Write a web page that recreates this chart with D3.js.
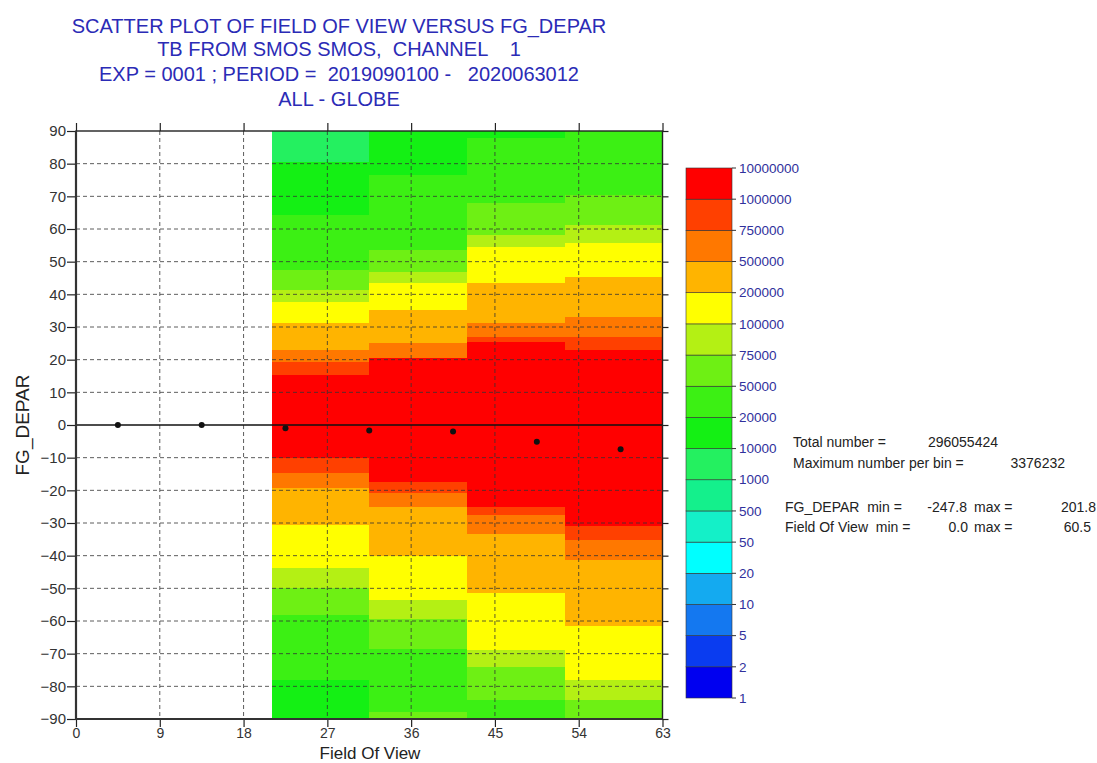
<!DOCTYPE html>
<html>
<head>
<meta charset="utf-8">
<script src="https://cdn.jsdelivr.net/npm/d3@7"></script>
<style>
  body { margin: 0; background: #fff; }
  svg text { font-family: "Liberation Sans", Arial, Helvetica, sans-serif; }
  .pre { white-space: pre; }
</style>
</head>
<body>
<script>
// chart values
const titleLines = [
  'SCATTER PLOT OF FIELD OF VIEW VERSUS FG_DEPAR',
  'TB FROM SMOS SMOS,  CHANNEL    1',
  'EXP = 0001 ; PERIOD =  2019090100 -   2020063012',
  'ALL - GLOBE'
];
const xTicks = [0, 9, 18, 27, 36, 45, 54, 63];
const yTicks = [90, 80, 70, 60, 50, 40, 30, 20, 10, 0, -10, -20, -30, -40, -50, -60, -70, -80, -90];

// field of view bins (x) and, per bin, FG_DEPAR band edges with counts
const fovEdges = [21, 31.5, 42, 52.5, 63];
const col1Edges = [90, 80.6, 64.3, 47.4, 41.3, 37.8, 31.1, 23.0, 19.4, 15.3, -10.2, -14.8, -19.4, -30.6, -43.9, -50.0, -58.2, -78.1, -90];
const col1Counts = [5000, 15000, 30000, 60000, 85000, 150000, 300000, 600000, 850000, 2000000, 850000, 600000, 300000, 150000, 85000, 60000, 30000, 15000];
const col2Edges = [90, 76.5, 53.6, 46.9, 43.6, 35.2, 25.0, 20.4, -17.3, -20.9, -25.1, -40.0, -53.6, -59.5, -68.6, -87.8, -90];
const col2Counts = [15000, 30000, 60000, 85000, 150000, 300000, 600000, 2500000, 850000, 600000, 300000, 150000, 85000, 60000, 30000, 60000];
const col3Edges = [90, 87.8, 67.9, 58.2, 54.4, 43.4, 31.3, 27.0, 25.5, -25.1, -27.6, -33.5, -51.3, -68.9, -74.2, -84.2, -90];
const col3Counts = [15000, 30000, 60000, 85000, 150000, 300000, 600000, 850000, 3000000, 850000, 600000, 300000, 150000, 85000, 60000, 30000];
const col4Edges = [90, 70.4, 61.2, 55.6, 45.4, 33.2, 27.0, 23.0, -30.9, -35.2, -41.3, -61.5, -78.1, -84.2, -90];
const col4Counts = [30000, 60000, 85000, 150000, 300000, 600000, 850000, 3300000, 850000, 600000, 300000, 150000, 85000, 60000];

// mean FG_DEPAR per field of view bin
const meanFov = [4.5, 13.5, 22.5, 31.5, 40.5, 49.5, 58.5];
const meanDepar = [0, 0, -1.0, -1.7, -2.0, -5.1, -7.4];

// colour bar
const legendLevels = [1, 2, 5, 10, 20, 50, 500, 1000, 10000, 20000, 50000, 75000, 100000, 200000, 500000, 750000, 1000000, 10000000];
const levelColors = ['#0000f0', '#0a3cf0', '#1478f0', '#14aaf0', '#00ffff', '#14f0c8', '#14f08c', '#24f060',
  '#14f014', '#3cf014', '#6ef014', '#b4f014', '#ffff00', '#ffb400', '#ff7800', '#ff4000', '#ff0000'];

const statLabels = ['Total number =', 'Maximum number per bin =', 'FG_DEPAR  min =', 'Field Of View  min ='];
const statValues = ['296055424', '3376232', '-247.8', '0.0'];
const statMax = ['', '', '201.8', '60.5'];

const width = 1097, height = 763;

const svg = d3.select('body').append('svg')
  .attr('width', width)
  .attr('height', height)
  .attr('viewBox', [0, 0, width, height]);

const x = d3.scaleLinear([0, 63], [76, 662.5]);
const y = d3.scaleLinear([-90, 90], [719, 131]);
const color = d3.scaleThreshold(legendLevels.slice(1, -1), levelColors);

// title
svg.append('g')
  .attr('fill', '#2b2bb6')
  .attr('font-size', 20)
  .attr('text-anchor', 'middle')
  .selectAll('text')
  .data(titleLines)
  .join('text')
  .attr('class', 'pre')
  .attr('x', 339)
  .attr('y', (d, i) => [33, 56, 81, 106][i])
  .text(d => d);

// heat map cells
const columns = [
  { edges: col1Edges, counts: col1Counts },
  { edges: col2Edges, counts: col2Counts },
  { edges: col3Edges, counts: col3Counts },
  { edges: col4Edges, counts: col4Counts }
];
const cells = columns.flatMap((col, i) => col.counts.map((c, j) => ({
  x0: fovEdges[i], x1: fovEdges[i + 1], y0: col.edges[j], y1: col.edges[j + 1], count: c
})));

svg.append('g')
  .attr('shape-rendering', 'crispEdges')
  .selectAll('rect')
  .data(cells)
  .join('rect')
  .attr('x', d => x(d.x0))
  .attr('y', d => y(d.y0))
  .attr('width', d => x(d.x1) - x(d.x0) + 0.5)
  .attr('height', d => y(d.y1) - y(d.y0) + 0.5)
  .attr('fill', d => color(d.count));

// dashed grid
const grid = svg.append('g')
  .attr('stroke', '#333')
  .attr('stroke-width', 0.8)
  .attr('stroke-dasharray', '4,3');
grid.selectAll('.vx')
  .data(xTicks.slice(1, -1))
  .join('line')
  .attr('x1', d => x(d)).attr('x2', d => x(d))
  .attr('y1', y(90)).attr('y2', y(-90));
grid.selectAll('.hy')
  .data(yTicks.filter(d => Math.abs(d) !== 90 && d !== 0))
  .join('line')
  .attr('y1', d => y(d)).attr('y2', d => y(d))
  .attr('x1', x(0)).attr('x2', x(63));

// zero line
svg.append('line')
  .attr('x1', x(0)).attr('x2', x(63))
  .attr('y1', y(0)).attr('y2', y(0))
  .attr('stroke', '#111')
  .attr('stroke-width', 1.5);

// axes
const styleAxis = g => {
  g.select('.domain').remove();
  g.selectAll('.tick line').attr('stroke', '#222').attr('stroke-width', 1.2);
  g.selectAll('.tick text').attr('fill', '#333').attr('font-size', 15);
};

svg.append('g')
  .attr('transform', `translate(${x(0)},0)`)
  .call(d3.axisLeft(y).tickValues(yTicks).tickSize(9).tickPadding(1).tickFormat(d3.format('d')))
  .call(styleAxis);

svg.append('g')
  .attr('transform', `translate(0,${y(-90)})`)
  .call(d3.axisBottom(x).tickValues(xTicks).tickSize(8).tickPadding(1))
  .call(styleAxis)
  .call(g => g.selectAll('.tick text').attr('font-size', 14));

svg.append('g')
  .attr('transform', `translate(0,${y(90)})`)
  .call(d3.axisTop(x).tickValues(xTicks).tickSize(8).tickFormat(''))
  .call(styleAxis);

svg.append('g')
  .attr('transform', `translate(${x(63)},0)`)
  .call(d3.axisRight(y).tickValues(yTicks).tickSize(6).tickFormat(''))
  .call(styleAxis);

// frame
svg.append('rect')
  .attr('x', x(0)).attr('y', y(90))
  .attr('width', x(63) - x(0)).attr('height', y(-90) - y(90))
  .attr('fill', 'none')
  .attr('stroke', '#222')
  .attr('stroke-width', 1.4);
svg.append('path')
  .attr('d', `M${x(0)},${y(90)}V${y(-90)}H${x(63)}`)
  .attr('fill', 'none')
  .attr('stroke', '#333')
  .attr('stroke-width', 2.2);

// mean points
svg.append('g')
  .selectAll('circle')
  .data(meanFov)
  .join('circle')
  .attr('cx', d => x(d))
  .attr('cy', (d, i) => y(meanDepar[i]))
  .attr('r', 3)
  .attr('fill', '#111');

// axis titles
svg.append('text')
  .attr('x', 370).attr('y', 758.5)
  .attr('text-anchor', 'middle')
  .attr('font-size', 17)
  .attr('fill', '#222')
  .text('Field Of View');

svg.append('text')
  .attr('transform', `translate(29,${y(0)}) rotate(-90)`)
  .attr('text-anchor', 'middle')
  .attr('font-size', 19)
  .attr('fill', '#222')
  .text('FG_DEPAR');

// colour bar
const cb = d3.scaleLinear([0, legendLevels.length - 1], [698, 168]);
const legend = svg.append('g');
legend.selectAll('rect')
  .data(levelColors)
  .join('rect')
  .attr('x', 686)
  .attr('y', (d, i) => cb(i + 1))
  .attr('width', 46)
  .attr('height', (d, i) => cb(i) - cb(i + 1))
  .attr('fill', d => d)
  .attr('stroke', '#333')
  .attr('stroke-width', 0.6);
legend.selectAll('line')
  .data(legendLevels)
  .join('line')
  .attr('x1', 732).attr('x2', 736)
  .attr('y1', (d, i) => cb(i)).attr('y2', (d, i) => cb(i))
  .attr('stroke', '#333');
legend.selectAll('text')
  .data(legendLevels)
  .join('text')
  .attr('x', 739)
  .attr('y', (d, i) => cb(i))
  .attr('dy', '0.35em')
  .attr('font-size', 13.5)
  .attr('fill', '#30309c')
  .text(d => d);

// statistics
const statY = [447, 468, 512, 532];
const stats = svg.append('g').attr('font-size', 14).attr('fill', '#222');
stats.selectAll('.lab')
  .data(statLabels)
  .join('text')
  .attr('class', 'pre')
  .attr('x', (d, i) => i < 2 ? 793 : 785)
  .attr('y', (d, i) => statY[i])
  .text(d => d);
stats.selectAll('.val')
  .data(statValues)
  .join('text')
  .attr('x', (d, i) => [998, 1065, 967, 968][i])
  .attr('y', (d, i) => statY[i])
  .attr('text-anchor', 'end')
  .text(d => d);
stats.selectAll('.mx')
  .data(statMax.slice(2))
  .join('text')
  .attr('y', (d, i) => statY[i + 2])
  .attr('x', 974)
  .text('max =');
stats.selectAll('.mxv')
  .data(statMax.slice(2))
  .join('text')
  .attr('y', (d, i) => statY[i + 2])
  .attr('x', (d, i) => [1096, 1091][i])
  .attr('text-anchor', 'end')
  .text(d => d);
</script>
</body>
</html>
